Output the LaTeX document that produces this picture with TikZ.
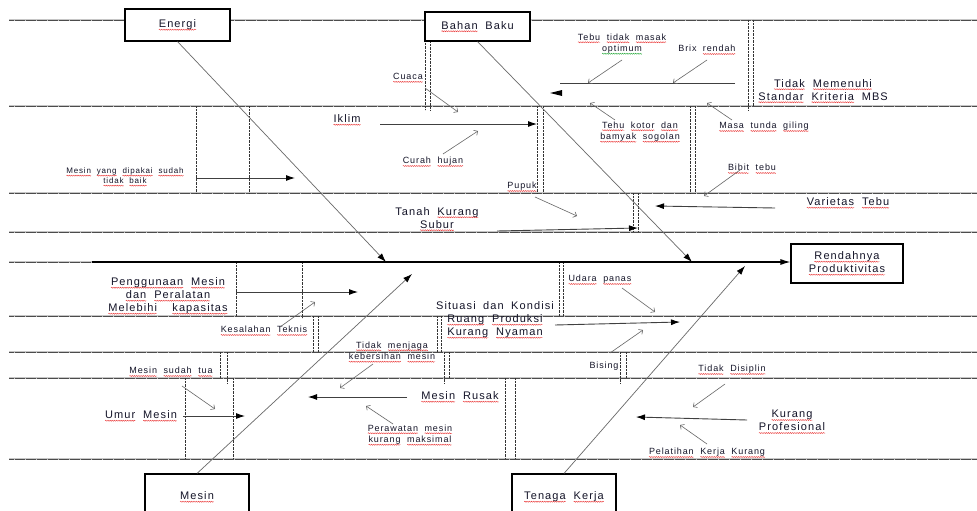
\documentclass[tikz,border=0pt]{standalone}
\usepackage{fontspec}
\setmainfont{Liberation Sans}[LetterSpace=10, WordSpace=1.8]
\usetikzlibrary{arrows.meta,decorations.pathmorphing}
\definecolor{txt}{RGB}{20,20,40}
\definecolor{ln}{RGB}{105,105,105}
\definecolor{sqred}{RGB}{235,60,60}
\definecolor{sqgreen}{RGB}{40,170,60}
\newcommand\wavyline[2]{\tikz[baseline=(wq.base)]{\node[inner sep=0pt, outer sep=0pt, draw=none, fill=none, minimum width=0pt, minimum height=0pt, rectangle, anchor=center] (wq) {#2}; \draw[#1, line width=0.45pt, decorate, decoration={snake, amplitude=0.5pt, segment length=2.2pt}] ([yshift=-2.2pt]wq.base west) -- ([yshift=-2.2pt]wq.base east);}}
\newcommand\sq[1]{\wavyline{sqred}{#1}}
\newcommand\gq[1]{\wavyline{sqgreen}{#1}}
\tikzset{
  hb/.style={preaction={draw, gray!45, line width=2.2pt}, draw=black!70, line width=0.5pt, dash pattern=on 0.5pt off 0.6pt},
  vb/.style={draw=black!80, line width=0.45pt, dash pattern=on 0.6pt off 0.8pt},
  boxn/.style={draw=black, line width=1.1pt, fill=white, inner sep=0pt, font=\fontsize{11}{13}\selectfont, text=txt},
  lbl/.style={font=\fontsize{11}{13}\selectfont, align=center, inner sep=0pt, text=txt},
  sm/.style={font=\fontsize{9}{11.5}\selectfont, align=center, inner sep=0pt, text=txt},
  xs/.style={font=\fontsize{8}{10}\selectfont, align=center, inner sep=0pt, text=txt},
  diag/.style={draw=ln, line width=0.7pt, -{Latex[length=9pt,width=6pt,color=black]}},
  br/.style={draw=black!75, line width=0.9pt, -{Latex[length=9pt,width=6pt,color=black]}},
  brl/.style={draw=black!75, line width=0.9pt},
  subar/.style={draw=black!60, line width=0.6pt, -{Straight Barb[length=3pt,width=6pt]}},
  spine/.style={draw=black, line width=1.1pt, -{Latex[length=10pt,width=6pt]}}
}
\begin{document}
\begin{tikzpicture}[x=1pt,y=-1pt]
\clip (0,0) rectangle (977,511);
\fill[white] (0,0) rectangle (977,511);
% horizontal borders
\foreach \yy in {20,106,193,232,316,352,378,459} {\draw[hb] (9,\yy) -- (977,\yy);}
\draw[hb] (9,262) -- (92,262);
% vertical borders
\draw[vb] (425,12) -- (425,110); \draw[vb] (430,20) -- (430,110);
\draw[vb] (748,20) -- (748,110); \draw[vb] (753,20) -- (753,106);
\draw[vb] (196,106) -- (196,193); \draw[vb] (249,106) -- (249,193);
\draw[vb] (537,106) -- (537,193); \draw[vb] (543,106) -- (543,193);
\draw[vb] (690,106) -- (690,193); \draw[vb] (695,106) -- (695,193);
\draw[vb] (633,193) -- (633,232); \draw[vb] (638,193) -- (638,232);
\draw[vb] (236,262) -- (236,316); \draw[vb] (302,262) -- (302,318);
\draw[vb] (559,262) -- (559,316); \draw[vb] (563,262) -- (563,316);
\draw[vb] (313,316) -- (313,352); \draw[vb] (318,316) -- (318,352);
\draw[vb] (437,316) -- (437,352); \draw[vb] (441,316) -- (441,352);
\draw[vb] (220,352) -- (220,378); \draw[vb] (227,352) -- (227,384);
\draw[vb] (444,352) -- (444,383); \draw[vb] (449,352) -- (449,378);
\draw[vb] (620,352) -- (620,383); \draw[vb] (626,352) -- (626,378);
\draw[vb] (185,378) -- (185,459); \draw[vb] (233,378) -- (233,459);
\draw[vb] (505,378) -- (505,459); \draw[vb] (515,378) -- (515,459);
% main boxes
\node[boxn, minimum width=105pt, minimum height=32pt] (energi) at (177.5,25) {\sq{Energi}};
\node[boxn, minimum width=105pt, minimum height=29pt] (bahan) at (477.5,26.5) {\sq{Bahan} Baku};
\node[boxn, minimum width=104pt, minimum height=46pt] (mesin) at (197,497) {\sq{Mesin}};
\node[boxn, minimum width=104pt, minimum height=46pt] (tenaga) at (564,497) {\sq{Tenaga} \sq{Kerja}};
\node[boxn, minimum width=112pt, minimum height=39pt, align=center] (rend) at (847,263.5) {\sq{Rendahnya}\\\sq{Produktivitas}};
% spine
\coordinate (spS) at (92,262);
\draw[spine] (spS) -- (spS -| rend.west);
% main bones
\coordinate (eE) at (386,262); \coordinate (bE) at (692,262);
\coordinate (mE) at (412,274); \coordinate (tE) at (745,266);
\draw[diag] (energi.south) -- (eE);
\draw[diag] (bahan.south) -- (bE);
\draw[diag] (mesin.north) -- (mE);
\draw[diag] (tenaga.north) -- (tE);
% labels
\node[sm] (tebu) at (622,44) {\sq{Tebu} \sq{tidak} \sq{masak}\\\gq{optimum}};
\node[sm] (brix) at (707,50) {Brix \sq{rendah}};
\node[sm] (cuaca) at (408,78) {\sq{Cuaca}};
\node[lbl] (tmm) at (823,91) {\sq{Tidak} \sq{Memenuhi}\\\sq{Standar} \sq{Kriteria} MBS};
\node[lbl] (iklim) at (347,120) {\sq{Iklim}};
\node[sm] (curah) at (433,162) {\sq{Curah} \sq{hujan}};
\node[sm] (tehu) at (640,132) {\sq{Tehu} \sq{kotor} \sq{dan}\\\sq{bamyak} \sq{sogolan}};
\node[sm] (masa) at (764,127) {\sq{Masa} \sq{tunda} \sq{giling}};
\node[sm] (bibit) at (752,169) {\sq{Bibit} \sq{tebu}};
\node[xs] (mesinyd) at (125,177) {\sq{Mesin} \sq{yang} \sq{dipakai} \sq{sudah}\\\sq{tidak} \sq{baik}};
\node[sm] (pupuk) at (522,187) {\sq{Pupuk}};
\node[lbl] (var) at (848,203) {\sq{Varietas} \sq{Tebu}};
\node[lbl] (tanah) at (437,219) {Tanah \sq{Kurang}\\\sq{Subur}};
\node[lbl] (peng) at (168,296) {\sq{Penggunaan} \sq{Mesin}\\\sq{dan} \sq{Peralatan}\\\sq{Melebihi} \ \sq{kapasitas}};
\node[sm] (udara) at (600,280) {\sq{Udara} \sq{panas}};
\node[lbl] (sit) at (495,320) {Situasi dan Kondisi\\\sq{Ruang} \sq{Produksi}\\\sq{Kurang} \sq{Nyaman}};
\node[sm] (kes) at (264,331) {\sq{Kesalahan} \sq{Teknis}};
\node[sm] (tmj) at (392,352) {\sq{Tidak} \sq{menjaga}\\\sq{kebersihan} \sq{mesin}};
\node[sm] (bising) at (604,366) {Bising};
\node[sm] (tdis) at (732,370) {\sq{Tidak} \sq{Disiplin}};
\node[sm] (mst) at (171,372) {\sq{Mesin} \sq{sudah} \sq{tua}};
\node[lbl] (umur) at (141,416) {\sq{Umur} \sq{Mesin}};
\node[lbl] (rusak) at (460,397) {\sq{Mesin} \sq{Rusak}};
\node[sm] (peraw) at (410,435) {\sq{Perawatan} \sq{mesin}\\\sq{kurang} \sq{maksimal}};
\node[lbl] (kp) at (792,422) {\sq{Kurang}\\\sq{Profesional}};
\node[sm] (pel) at (707,453) {\sq{Pelatihan} \sq{Kerja} \sq{Kurang}};
% branch arrows
\coordinate (iklS) at (380,124); \coordinate (iklE) at (537,124);
\draw[br] (iklS) -- (iklE);
\coordinate (tmS) at (735,83); \coordinate (tmE) at (560,83);
\draw[brl] (tmS) -- (tmE);
\fill[black] (550,93) -- (562,90) -- (562,96) -- cycle;
\coordinate (myS) at (196,178); \coordinate (myE) at (295,178);
\draw[br] (myS) -- (myE);
\coordinate (vaS) at (775,208); \coordinate (vaE) at (655,206);
\draw[br] (vaS) -- (vaE);
\coordinate (taS) at (497,231); \coordinate (taE) at (638,228);
\draw[br] (taS) -- (taE);
\coordinate (peS) at (236,292); \coordinate (peE) at (358,292);
\draw[br] (peS) -- (peE);
\coordinate (siS) at (555,325); \coordinate (siE) at (680,322);
\draw[br] (siS) -- (siE);
\coordinate (umS) at (183,416); \coordinate (umE) at (245,416);
\draw[br] (umS) -- (umE);
\coordinate (ruS) at (407,397); \coordinate (ruE) at (308,397);
\draw[br] (ruS) -- (ruE);
\coordinate (kpS) at (747,420); \coordinate (kpE) at (636,417);
\draw[br] (kpS) -- (kpE);
% sub-cause arrows
\coordinate (a1s) at (622,60); \coordinate (a1e) at (588,83); \draw[subar] (a1s) -- (a1e);
\coordinate (a2s) at (707,60); \coordinate (a2e) at (673,83); \draw[subar] (a2s) -- (a2e);
\coordinate (a3s) at (425,88); \coordinate (a3e) at (458,112); \draw[subar] (a3s) -- (a3e);
\coordinate (a4s) at (443,154); \coordinate (a4e) at (478,131); \draw[subar] (a4s) -- (a4e);
\coordinate (a5s) at (615,120); \coordinate (a5e) at (590,103); \draw[subar] (a5s) -- (a5e);
\coordinate (a6s) at (732,120); \coordinate (a6e) at (707,103); \draw[subar] (a6s) -- (a6e);
\coordinate (a7s) at (740,170); \coordinate (a7e) at (704,196); \draw[subar] (a7s) -- (a7e);
\coordinate (a8s) at (535,197); \coordinate (a8e) at (577,216); \draw[subar] (a8s) -- (a8e);
\coordinate (a9s) at (280,327); \coordinate (a9e) at (315,302); \draw[subar] (a9s) -- (a9e);
\coordinate (b1s) at (622,288); \coordinate (b1e) at (655,312); \draw[subar] (b1s) -- (b1e);
\coordinate (b2s) at (610,353); \coordinate (b2e) at (643,330); \draw[subar] (b2s) -- (b2e);
\coordinate (b3s) at (373,364); \coordinate (b3e) at (340,388); \draw[subar] (b3s) -- (b3e);
\coordinate (b4s) at (393,424); \coordinate (b4e) at (366,406); \draw[subar] (b4s) -- (b4e);
\coordinate (b5s) at (182,386); \coordinate (b5e) at (215,409); \draw[subar] (b5s) -- (b5e);
\coordinate (b6s) at (725,384); \coordinate (b6e) at (693,407); \draw[subar] (b6s) -- (b6e);
\coordinate (b7s) at (707,444); \coordinate (b7e) at (680,425); \draw[subar] (b7s) -- (b7e);
\end{tikzpicture}
\end{document}
